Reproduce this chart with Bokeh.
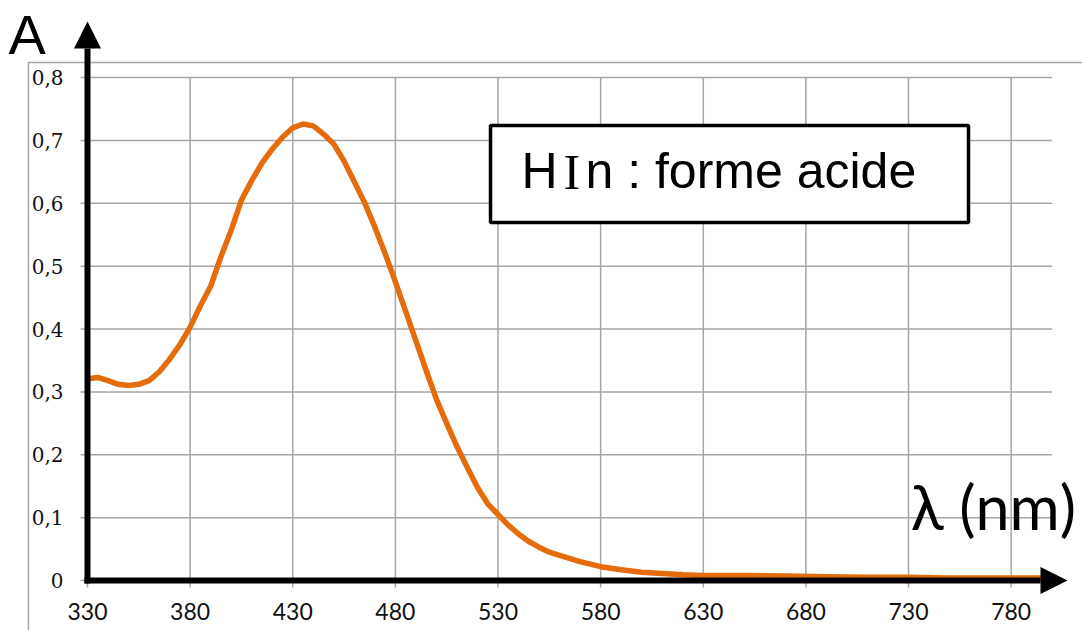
from bokeh.plotting import figure
from bokeh.models import Arrow, NormalHead, ColumnDataSource
from bokeh.core.properties import value
from bokeh.embed import file_html
from bokeh.resources import INLINE

# ---- data ----
wavelength = [330, 335, 340, 345, 350, 355, 360, 365, 370, 375, 380, 385, 390, 395,
              400, 405, 410, 415, 420, 425, 430, 435, 440, 445, 450, 455, 460, 465,
              470, 475, 480, 485, 490, 495, 500, 505, 510, 515, 520, 525, 530, 535,
              540, 545, 550, 555, 560, 570, 580, 590, 600, 610, 620, 630, 650, 670,
              690, 710, 730, 750, 770, 800]
absorbance = [0.321, 0.323, 0.318, 0.312, 0.310, 0.312, 0.318, 0.332, 0.352, 0.375,
              0.403, 0.437, 0.468, 0.515, 0.557, 0.605, 0.636, 0.664, 0.686, 0.705,
              0.720, 0.726, 0.723, 0.710, 0.694, 0.667, 0.634, 0.601, 0.562, 0.520,
              0.475, 0.428, 0.381, 0.334, 0.288, 0.250, 0.213, 0.180, 0.148, 0.122,
              0.105, 0.088, 0.074, 0.062, 0.053, 0.045, 0.040, 0.030, 0.022, 0.017,
              0.013, 0.011, 0.009, 0.008, 0.008, 0.007, 0.006, 0.005, 0.005, 0.004,
              0.004, 0.004]
x_ticks = [330, 380, 430, 480, 530, 580, 630, 680, 730, 780]
x_tick_labels = ["330", "380", "430", "480", "530", "580", "630", "680", "730", "780"]
y_ticks = [0, 0.1, 0.2, 0.3, 0.4, 0.5, 0.6, 0.7, 0.8]
y_tick_labels = ["0", "0,1", "0,2", "0,3", "0,4", "0,5", "0,6", "0,7", "0,8"]
y_title = "A"
x_title = "λ (nm)"
legend_text = "HIn : forme acide"

# ---- layout (pixel geometry of the page) ----
W, H = 1082, 630
X0, X1 = 330, 800            # plot area in data units
Y0, Y1 = 0, 0.8
PX_X0, PX_X1 = 87, 1051.7    # pixel columns of X0 and X1
PX_Y0, PX_Y1 = 580, 77       # pixel rows of Y0 and Y1
sx = (PX_X1 - PX_X0) / (X1 - X0)
sy = (PX_Y0 - PX_Y1) / (Y1 - Y0)
# empirical baseline correction per font (fraction of font size)
KF = {"Lato": 0.387, "Liberation Sans": 0.347, "Liberation Serif": 0.338,
      "DejaVu Serif": 0.346}


def dx(px):   # pixel column -> data x
    return X0 + (px - PX_X0) / sx


def dy(py):   # pixel row -> data y
    return Y0 + (PX_Y0 - py) / sy


def base(py, size, font):  # wanted baseline pixel row -> data y for text glyph
    return dy(py - KF[font] * size)


p = figure(width=W, height=H, x_range=(dx(0), dx(W)), y_range=(dy(H), dy(0)),
           output_backend="svg", toolbar_location=None,
           x_axis_location=None, y_axis_location=None,
           min_border=0, min_border_left=0, min_border_right=0,
           min_border_top=0, min_border_bottom=0)
p.outline_line_color = None
p.background_fill_color = "white"
p.border_fill_color = "white"
p.grid.visible = False

GRID = "#a6a6a6"
TICK = 7
AXW = 6

# outer chart border
p.quad(left=[dx(28)], right=[dx(W + 20)], top=[dy(62)], bottom=[dy(H + 20)],
       fill_color=None, line_color=GRID, line_width=1.5)

# grid + tick marks
p.segment(x0=x_ticks, x1=x_ticks, y0=[Y0 - TICK / sy] * len(x_ticks),
          y1=[Y1] * len(x_ticks), line_color=GRID, line_width=1.5)
p.segment(x0=[X0 - TICK / sx] * len(y_ticks), x1=[X1] * len(y_ticks),
          y0=y_ticks, y1=y_ticks, line_color=GRID, line_width=1.5)

# tick labels
p.text(x=x_ticks, y=[base(620, 23, "Lato")] * len(x_ticks), text=x_tick_labels,
       text_font=value("Lato"), text_font_size="23px", text_color="#111111",
       text_align="center", text_baseline="alphabetic")
p.text(x=[dx(63)] * len(y_ticks),
       y=[t + (KF["DejaVu Serif"] * 20 - 7) / sy for t in y_ticks],
       text=y_tick_labels, text_font=value("DejaVu Serif"),
       text_font_size="20px", text_color="#111111",
       text_align="right", text_baseline="alphabetic")

# curve
src = ColumnDataSource(dict(x=wavelength, y=absorbance))
p.line("x", "y", source=src, line_color="#E46C0A", line_width=5.5,
       line_join="round", line_cap="round")

# axis arrows (started half a line width before the origin for a clean corner)
p.add_layout(Arrow(x_start=X0 - (AXW / 2) / sx, y_start=Y0, x_end=dx(1067), y_end=Y0,
                   line_width=AXW, line_color="black", line_cap="butt",
                   end=NormalHead(size=27, fill_color="black", line_color=None)))
p.add_layout(Arrow(x_start=X0, y_start=Y0 - (AXW / 2) / sy, x_end=X0, y_end=dy(21),
                   line_width=AXW, line_color="black", line_cap="butt",
                   end=NormalHead(size=27, fill_color="black", line_color=None)))

# axis titles
p.text(x=[dx(8)], y=[base(53, 56, "Liberation Sans")], text=[y_title],
       text_font=value("Liberation Sans"), text_font_size="56px",
       text_color="black", text_align="left", text_baseline="alphabetic")
p.text(x=[dx(1074)], y=[base(530, 61, "Lato")], text=[x_title],
       text_font=value("Lato"), text_font_size="61px", text_color="black",
       text_align="right", text_baseline="alphabetic")

# legend box
p.quad(left=[dx(490)], right=[dx(968)], top=[dy(125)], bottom=[dy(222)],
       fill_color="white", line_color="black", line_width=3.5)
p.text(x=[dx(521)], y=[base(188, 50, "Liberation Sans")], text=[legend_text[0]],
       text_font=value("Liberation Sans"), text_font_size="50px",
       text_color="black", text_baseline="alphabetic")
p.text(x=[dx(563)], y=[base(188, 50, "Liberation Serif")], text=[legend_text[1]],
       text_font=value("Liberation Serif"), text_font_size="50px",
       text_color="black", text_baseline="alphabetic")
p.text(x=[dx(585)], y=[base(188, 50, "Liberation Sans")], text=[legend_text[2:]],
       text_font=value("Liberation Sans"), text_font_size="50px",
       text_color="black", text_baseline="alphabetic")

open("out.html", "w").write(file_html(p, INLINE))
